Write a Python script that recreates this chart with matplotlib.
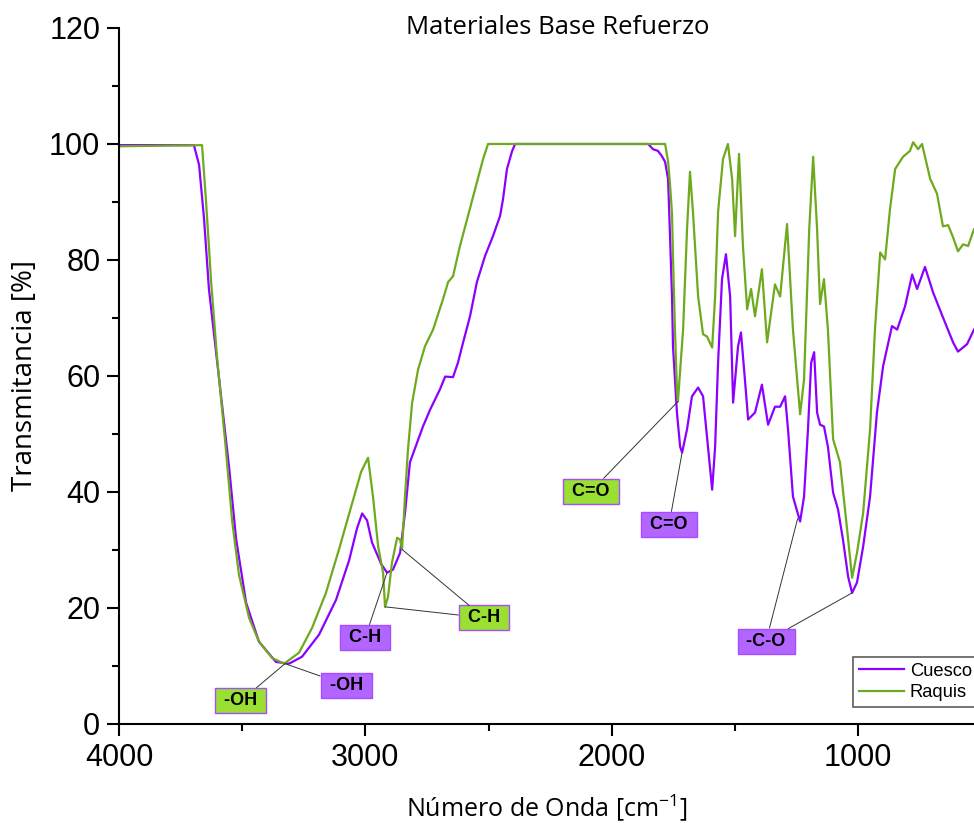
import matplotlib
matplotlib.use('Agg')
import matplotlib.pyplot as plt
from matplotlib.ticker import MultipleLocator

# FTIR spectra: wavenumber (cm-1) and transmittance (%)
wn_cuesco = [4000, 3696, 3675, 3655, 3635, 3594, 3553, 3525, 3484, 3432,
             3363, 3310, 3257, 3188, 3119, 3066, 3034, 3013, 2993, 2973,
             2936, 2912, 2888, 2859, 2839, 2819, 2790, 2766, 2737, 2697,
             2676, 2644, 2624, 2603, 2575, 2547, 2514, 2482, 2453, 2441,
             2425, 2404, 2392, 1852, 1832, 1812, 1796, 1783, 1771, 1763,
             1755, 1751, 1743, 1735, 1722, 1714, 1694, 1674, 1649, 1629,
             1609, 1592, 1580, 1568, 1552, 1536, 1519, 1507, 1487, 1475,
             1459, 1446, 1418, 1390, 1365, 1337, 1316, 1296, 1284, 1264,
             1235, 1219, 1203, 1190, 1178, 1166, 1154, 1138, 1122, 1101,
             1081, 1061, 1040, 1024, 1004, 979, 951, 923, 898, 862,
             841, 809, 780, 760, 728, 695, 655, 614, 594, 557, 529]
t_cuesco = [99.8, 99.8, 96.4, 87.2, 75.0, 59.6, 44.2, 32.0, 20.9, 14.2,
            10.7, 10.4, 11.6, 15.4, 21.4, 28.2, 33.7, 36.3, 35.1, 31.3,
            27.6, 26.1, 26.6, 29.5, 36.4, 45.1, 48.5, 51.3, 54.2, 57.7,
            59.9, 59.8, 62.3, 65.8, 70.3, 76.2, 80.7, 84.1, 87.6, 90.5,
            95.7, 98.8, 100.0, 100.0, 99.1, 98.8, 97.9, 96.9, 94.0, 84.0,
            73.7, 65.1, 59.4, 53.7, 47.8, 46.8, 50.8, 56.5, 58.0, 56.5,
            47.8, 40.4, 47.8, 62.3, 76.7, 81.0, 73.7, 55.4, 65.1, 67.5,
            59.4, 52.5, 53.7, 58.5, 51.6, 54.7, 54.7, 56.5, 50.8, 39.2,
            34.9, 39.2, 50.8, 62.3, 64.1, 53.7, 51.6, 51.3, 47.8, 39.9,
            37.0, 31.8, 25.4, 22.6, 24.4, 30.6, 39.2, 53.7, 61.7, 68.6,
            68.0, 72.0, 77.5, 75.0, 78.8, 74.4, 70.1, 65.8, 64.2, 65.5, 68.0]

wn_raquis = [4000, 3663, 3647, 3626, 3602, 3566, 3541, 3513, 3472, 3432,
             3379, 3330, 3269, 3216, 3160, 3107, 3054, 3017, 2989, 2969,
             2948, 2928, 2920, 2908, 2892, 2871, 2859, 2851, 2839, 2827,
             2810, 2786, 2758, 2725, 2685, 2664, 2644, 2616, 2587, 2547,
             2522, 2502, 1783, 1771, 1763, 1755, 1751, 1743, 1735, 1731,
             1710, 1694, 1682, 1670, 1649, 1629, 1613, 1592, 1580, 1568,
             1548, 1528, 1511, 1499, 1483, 1467, 1450, 1434, 1418, 1390,
             1369, 1337, 1316, 1288, 1264, 1235, 1219, 1198, 1182, 1166,
             1154, 1138, 1122, 1101, 1073, 1044, 1024, 1004, 979, 951,
             931, 910, 890, 870, 849, 817, 789, 776, 756, 740,
             707, 679, 655, 634, 614, 594, 573, 553, 529]
t_raquis = [99.6, 99.8, 90.3, 76.2, 63.2, 47.3, 35.1, 25.7, 18.3, 14.2,
            11.4, 10.4, 12.3, 16.6, 22.6, 30.1, 38.0, 43.5, 45.9, 39.2,
            30.6, 26.1, 20.2, 21.9, 27.8, 32.1, 31.8, 30.1, 39.2, 47.3,
            55.4, 61.1, 65.1, 68.0, 73.2, 76.2, 77.2, 82.4, 87.0, 93.4,
            97.4, 100.0, 100.0, 97.0, 93.0, 88.0, 80.5, 68.0, 57.7, 55.6,
            68.0, 85.3, 95.2, 88.3, 73.7, 67.2, 66.8, 64.9, 73.7, 88.3,
            97.4, 100.0, 94.0, 84.1, 98.3, 82.4, 71.5, 75.0, 70.3, 78.4,
            65.8, 75.8, 73.7, 86.2, 68.0, 53.4, 59.4, 85.3, 97.8, 85.3,
            72.4, 76.7, 68.0, 49.1, 45.1, 33.5, 25.2, 29.5, 36.4, 50.8,
            68.0, 81.3, 80.1, 88.8, 95.7, 97.8, 98.8, 100.3, 99.1, 100.0,
            94.0, 91.4, 85.8, 86.0, 83.9, 81.5, 82.7, 82.4, 85.3]

# band assignments: label, series, peak positions (wn, T)
band_labels = ['-OH', '-OH', 'C-H', 'C-H', 'C=O', 'C=O', '-C-O']
band_series = ['raquis', 'cuesco', 'cuesco', 'raquis', 'raquis', 'cuesco', 'cuesco']
band_peaks = [
    [(3326, 10.4)],
    [(3326, 10.4)],
    [(2912, 26.1)],
    [(2920, 20.2), (2851, 30.1)],
    [(1731, 55.6)],
    [(1714, 46.8)],
    [(1245, 35.4), (1024, 22.6)],
]
band_boxes = [(3505, 4.0), (3078, 6.7), (3001, 14.9), (2518, 18.3),
              (2084, 40.1), (1767, 34.4), (1373, 14.3)]

PURPLE = '#8B00FF'
GREEN = '#6FAA1E'
BOX_FILL = {'cuesco': '#B266FF', 'raquis': '#99E033'}
BOX_EDGE = '#A64DFF'

LABEL_FONT = 'Open Sans'
TICK_FONT = 'Liberation Sans'


def plot_spectra():
    plt.rcParams['mathtext.fontset'] = 'custom'
    plt.rcParams['mathtext.rm'] = LABEL_FONT

    fig = plt.figure(figsize=(9.74, 8.23), dpi=100)
    ax = fig.add_axes([0.1222, 0.1203, 0.8778, 0.8457])

    ax.plot(wn_cuesco, t_cuesco, color=PURPLE, linewidth=1.6, label='Cuesco')
    ax.plot(wn_raquis, t_raquis, color=GREEN, linewidth=1.6, label='Raquis')

    ax.set_xlim(4000, 529)
    ax.set_ylim(0, 120)

    ax.xaxis.set_major_locator(MultipleLocator(1000))
    ax.xaxis.set_minor_locator(MultipleLocator(500))
    ax.yaxis.set_major_locator(MultipleLocator(20))
    ax.yaxis.set_minor_locator(MultipleLocator(10))
    ax.tick_params(which='major', direction='out', length=8.5, width=1.5,
                   labelsize=22, pad=5)
    ax.tick_params(which='minor', direction='out', length=5, width=1.5)
    for lbl in ax.get_xticklabels() + ax.get_yticklabels():
        lbl.set_family(TICK_FONT)

    for side in ['top', 'right']:
        ax.spines[side].set_visible(False)
    for side in ['left', 'bottom']:
        ax.spines[side].set_linewidth(1.5)

    ax.set_xlabel('Número de Onda [cm$^{\\mathregular{-1}}$]',
                  family=LABEL_FONT, fontsize=18, labelpad=14)
    ax.set_ylabel('Transmitancia [%]', family=LABEL_FONT, fontsize=20,
                  labelpad=7)
    fig.text(0.573, 0.967, 'Materiales Base Refuerzo', family=LABEL_FONT,
             fontsize=18.5, ha='center', va='center')

    for label, series, peaks, box in zip(band_labels, band_series,
                                         band_peaks, band_boxes):
        for j, peak in enumerate(peaks):
            ax.annotate(' ' + label + ' ', xy=peak, xytext=box,
                        ha='center', va='center', fontsize=13,
                        fontweight='bold', family=TICK_FONT,
                        color='black' if j == 0 else 'none',
                        bbox=dict(boxstyle='square,pad=0.22',
                                  fc=BOX_FILL[series] if j == 0 else 'none',
                                  ec=BOX_EDGE if j == 0 else 'none', lw=1),
                        arrowprops=dict(arrowstyle='-', color='#333333',
                                        lw=0.7, shrinkA=0, shrinkB=0))

    leg = ax.legend(loc='upper left', bbox_to_anchor=(0.8758, 0.2017),
                    bbox_transform=fig.transFigure, fontsize=13.2,
                    frameon=True, fancybox=False, borderaxespad=0,
                    borderpad=0.3, labelspacing=0.25, handlelength=2.5,
                    handletextpad=0.3)
    leg.get_frame().set_edgecolor('#333333')
    leg.get_frame().set_linewidth(1.2)
    for t in leg.get_texts():
        t.set_family(TICK_FONT)

    fig.savefig('out.png', dpi=100)


if __name__ == '__main__':
    plot_spectra()
